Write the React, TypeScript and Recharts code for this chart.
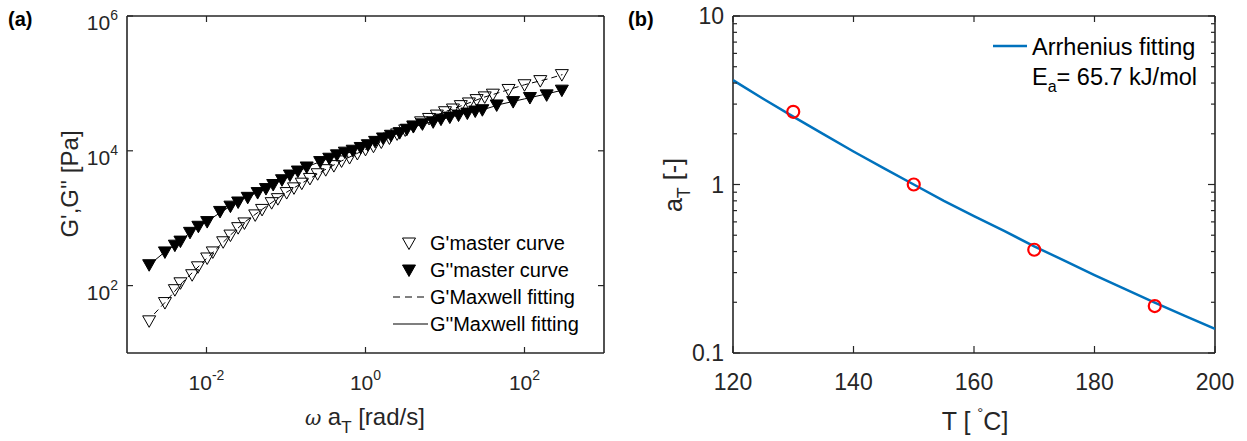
import { Scatter, ScatterChart, XAxis, YAxis } from 'recharts';

const AXIS = '#262626';
const FONT = '"Liberation Sans", Arial, sans-serif';

// (a) master curves: omega*aT [rad/s] and modulus [Pa]
const gPrimeOmega = [0.0019, 0.003, 0.004, 0.0047, 0.0066, 0.0078, 0.0102, 0.012, 0.0162, 0.02, 0.025, 0.03, 0.041, 0.05, 0.066, 0.079, 0.102, 0.126, 0.158, 0.2, 0.25, 0.316, 0.4, 0.5, 0.63, 0.79, 1.0, 1.26, 1.58, 2.0, 2.5, 3.16, 4.0, 5.0, 6.3, 7.9, 10, 12.6, 15.8, 20, 25, 31.6, 40, 63, 100, 158, 295];
const gPrime = [30, 56, 87, 110, 145, 190, 257, 316, 447, 562, 724, 851, 1120, 1350, 1700, 1950, 2400, 2820, 3310, 3890, 4570, 5250, 6030, 7080, 7940, 9120, 10500, 11700, 13500, 15500, 17800, 20400, 23400, 26900, 30200, 33900, 38000, 41700, 46800, 51300, 57500, 63100, 69200, 81300, 95500, 110000, 135000];

const gDoublePrimeOmega = [0.0019, 0.003, 0.004, 0.0047, 0.0062, 0.0079, 0.0102, 0.0148, 0.02, 0.025, 0.033, 0.044, 0.056, 0.069, 0.089, 0.112, 0.141, 0.182, 0.269, 0.35, 0.437, 0.55, 0.69, 0.87, 1.07, 1.32, 1.66, 2.09, 2.69, 3.31, 4.0, 5.2, 7.1, 8.9, 11.5, 14.8, 19.1, 24, 29.5, 44.7, 72, 117, 190, 295];
const gDoublePrime = [204, 316, 398, 457, 617, 759, 891, 1260, 1510, 1740, 2040, 2400, 2750, 3160, 3720, 4370, 5010, 5750, 6920, 7760, 8710, 9550, 10200, 11200, 12300, 13800, 15500, 17000, 18600, 20900, 22900, 25100, 26900, 29500, 31600, 33900, 36300, 38900, 40700, 47900, 53700, 61700, 67600, 79400];

const fitOmega = [0.0022, 0.003, 0.005, 0.007, 0.01, 0.02, 0.03, 0.05, 0.1, 0.2, 0.3, 0.5, 1, 2, 3, 5, 10, 20, 30, 50, 100, 200, 300];
const fitGPrime = [38, 56, 112, 166, 251, 562, 871, 1350, 2400, 3890, 5130, 7080, 10500, 15500, 20000, 26900, 38000, 51300, 61700, 74100, 95500, 117000, 135000];
const fitGDoublePrime = [234, 316, 490, 692, 891, 1510, 2000, 2570, 3980, 6030, 7240, 9120, 12000, 16600, 20000, 24500, 30200, 37200, 40700, 49000, 58900, 70800, 79400];

const xTicksA = [0.01, 1, 100];
const yTicksA = [100, 10000, 1000000];

// (b) shift factors
const tempC = [130, 150, 170, 190];
const shiftFactor = [2.7, 1.0, 0.41, 0.19];
const fitTemp = [120, 125, 130, 135, 140, 145, 150, 155, 160, 165, 170, 175, 180, 185, 190, 195, 200];
const fitShift = [4.16, 3.23, 2.53, 1.99, 1.57, 1.25, 1.0, 0.8, 0.65, 0.53, 0.43, 0.353, 0.29, 0.24, 0.199, 0.166, 0.139];

const xTicksB = [120, 140, 160, 180, 200];
const yMajorB = [0.1, 1, 10];
const yTicksB = [0.1, 0.2, 0.3, 0.4, 0.5, 0.6, 0.7, 0.8, 0.9, 1, 2, 3, 4, 5, 6, 7, 8, 9, 10];

const zip = (xs: number[], ys: number[]) => xs.map((x, i) => ({ x, y: ys[i] }));

function TriDown({ cx, cy, filled }: { cx: number; cy: number; filled: boolean }) {
  const pts = `${cx - 6.5},${cy - 5} ${cx + 6.5},${cy - 5} ${cx},${cy + 6.5}`;
  return <polygon points={pts} fill={filled ? '#000' : 'none'} stroke="#000" strokeWidth={1} />;
}

function LogXTick({ x, y, payload }: any) {
  const exp = Math.round(Math.log10(payload.value));
  return (
    <g>
      <line x1={x} x2={x} y1={y} y2={y - 6} stroke={AXIS} strokeWidth={1.2} />
      <text x={x} y={y + 37} textAnchor="middle" fontSize={21} fill={AXIS} fontFamily={FONT}>
        10<tspan dy={-10} fontSize={14}>{exp}</tspan>
      </text>
    </g>
  );
}

function LogYTick({ x, y, payload }: any) {
  const exp = Math.round(Math.log10(payload.value));
  return (
    <g>
      <line x1={x} x2={x + 6} y1={y} y2={y} stroke={AXIS} strokeWidth={1.2} />
      <text x={x - 9} y={y + 14} textAnchor="end" fontSize={21} fill={AXIS} fontFamily={FONT}>
        10<tspan dy={-10} fontSize={14}>{exp}</tspan>
      </text>
    </g>
  );
}

function TopTick({ x, y }: any) {
  return <line x1={x} x2={x} y1={y} y2={y + 6} stroke={AXIS} strokeWidth={1.2} />;
}

function RightTick({ x, y }: any) {
  return <line x1={x} x2={x - 6} y1={y} y2={y} stroke={AXIS} strokeWidth={1.2} />;
}

function LinXTick({ x, y, payload }: any) {
  return (
    <g>
      <line x1={x} x2={x} y1={y} y2={y - 7} stroke={AXIS} strokeWidth={1.2} />
      <text x={x} y={y + 37} textAnchor="middle" fontSize={23} fill={AXIS} fontFamily={FONT}>
        {payload.value}
      </text>
    </g>
  );
}

function MinorYTick({ x, y, payload }: any) {
  const major = yMajorB.includes(payload.value);
  return (
    <g>
      <line x1={x} x2={x + (major ? 7 : 4)} y1={y} y2={y} stroke={AXIS} strokeWidth={1.2} />
      {major && (
        <text x={x - 9} y={y + 8} textAnchor="end" fontSize={23} fill={AXIS} fontFamily={FONT}>
          {payload.value}
        </text>
      )}
    </g>
  );
}

function MinorYTickRight({ x, y, payload }: any) {
  const major = yMajorB.includes(payload.value);
  return <line x1={x} x2={x - (major ? 7 : 4)} y1={y} y2={y} stroke={AXIS} strokeWidth={1.2} />;
}

const axisLine = { stroke: AXIS, strokeWidth: 1.6 };
const noShape = () => <g />;

function PanelA() {
  return (
    <ScatterChart width={620} height={441} margin={{ top: 15, right: 15, bottom: 0, left: 0 }}>
      <XAxis type="number" dataKey="x" scale="log" domain={[0.001, 1000]} allowDataOverflow ticks={xTicksA}
        height={88} tickSize={0} tickMargin={0} tick={<LogXTick />} axisLine={axisLine} />
      <XAxis xAxisId="top" orientation="top" type="number" dataKey="x" scale="log" domain={[0.001, 1000]} allowDataOverflow
        ticks={xTicksA} height={1} tickSize={0} tickMargin={0} tick={<TopTick />} axisLine={axisLine} />
      <YAxis type="number" dataKey="y" scale="log" domain={[10, 1000000]} allowDataOverflow ticks={yTicksA}
        width={127} tickSize={0} tickMargin={0} tick={<LogYTick />} axisLine={axisLine} />
      <YAxis yAxisId="right" orientation="right" type="number" dataKey="y" scale="log" domain={[10, 1000000]} allowDataOverflow
        ticks={yTicksA} width={1} tickSize={0} tickMargin={0} tick={<RightTick />} axisLine={axisLine} />
      <Scatter data={zip(fitOmega, fitGPrime)} line={{ stroke: '#000', strokeWidth: 1, strokeDasharray: '6 4' }}
        shape={noShape} isAnimationActive={false} />
      <Scatter data={zip(fitOmega, fitGDoublePrime)} line={{ stroke: '#000', strokeWidth: 1 }}
        shape={noShape} isAnimationActive={false} />
      <Scatter data={zip(gPrimeOmega, gPrime)} isAnimationActive={false}
        shape={(p: any) => <TriDown cx={p.cx} cy={p.cy} filled={false} />} />
      <Scatter data={zip(gDoublePrimeOmega, gDoublePrime)} isAnimationActive={false}
        shape={(p: any) => <TriDown cx={p.cx} cy={p.cy} filled />} />
    </ScatterChart>
  );
}

function PanelB() {
  return (
    <ScatterChart width={627} height={441} margin={{ top: 15, right: 31, bottom: 0, left: 0 }}>
      <XAxis type="number" dataKey="x" domain={[120, 200]} allowDataOverflow ticks={xTicksB}
        height={88} tickSize={0} tickMargin={0} tick={<LinXTick />} axisLine={axisLine} />
      <XAxis xAxisId="top" orientation="top" type="number" dataKey="x" domain={[120, 200]} allowDataOverflow
        ticks={xTicksB} height={1} tickSize={0} tickMargin={0} tick={<TopTick />} axisLine={axisLine} />
      <YAxis type="number" dataKey="y" scale="log" domain={[0.1, 10]} allowDataOverflow ticks={yTicksB} interval={0}
        width={113} tickSize={0} tickMargin={0} tick={<MinorYTick />} axisLine={axisLine} />
      <YAxis yAxisId="right" orientation="right" type="number" dataKey="y" scale="log" domain={[0.1, 10]} allowDataOverflow
        ticks={yTicksB} interval={0} width={1} tickSize={0} tickMargin={0} tick={<MinorYTickRight />} axisLine={axisLine} />
      <Scatter data={zip(fitTemp, fitShift)} line={{ stroke: '#0072BD', strokeWidth: 2.5 }}
        shape={noShape} isAnimationActive={false} />
      <Scatter data={zip(tempC, shiftFactor)} isAnimationActive={false}
        shape={(p: any) => <circle cx={p.cx} cy={p.cy} r={6} fill="none" stroke="#FF0000" strokeWidth={2.2} />} />
    </ScatterChart>
  );
}

function Overlay() {
  const t = { fontFamily: FONT, fill: AXIS };
  return (
    <svg width={1247} height={441} style={{ position: 'absolute', left: 0, top: 0, pointerEvents: 'none' }}>
      <text x={8} y={26} fontSize={20} fontWeight="bold" fontFamily={FONT} fill="#000">(a)</text>
      <text x={628} y={26} fontSize={20} fontWeight="bold" fontFamily={FONT} fill="#000">(b)</text>

      <text x={78} y={184} transform="rotate(-90 78 184)" textAnchor="middle" fontSize={24} {...t}>G',G'' [Pa]</text>
      <text x={365} y={425} textAnchor="middle" fontSize={24} {...t}>
        <tspan fontStyle="italic" fontFamily="'DejaVu Serif', serif" fontSize={20}>ω </tspan>a
        <tspan dy={8} fontSize={17}>T</tspan>
        <tspan dy={-8}> [rad/s]</tspan>
      </text>

      <polygon points="402.5,238 415.5,238 409,249.5" fill="none" stroke="#000" strokeWidth={1} />
      <text x={430} y={250} fontSize={20} fontFamily={FONT} fill="#000">G'master curve</text>
      <polygon points="402.5,265 415.5,265 409,276.5" fill="#000" stroke="#000" strokeWidth={1} />
      <text x={430} y={277} fontSize={20} fontFamily={FONT} fill="#000">G''master curve</text>
      <line x1={393} x2={427} y1={297} y2={297} stroke="#000" strokeWidth={1} strokeDasharray="7 5" />
      <text x={430} y={304} fontSize={20} fontFamily={FONT} fill="#000">G'Maxwell fitting</text>
      <line x1={393} x2={428} y1={324} y2={324} stroke="#000" strokeWidth={1.2} />
      <text x={430} y={331} fontSize={20} fontFamily={FONT} fill="#000">G''Maxwell fitting</text>

      <text x={682} y={185} transform="rotate(-90 682 185)" textAnchor="middle" fontSize={25} {...t}>
        a<tspan dy={8} fontSize={18}>T</tspan><tspan dy={-8}> [-]</tspan>
      </text>
      <text x={975} y={430} textAnchor="middle" fontSize={25} {...t}>
        T [ <tspan dy={-12} fontSize={15}>°</tspan><tspan dy={12}>C]</tspan>
      </text>

      <line x1={993} x2={1027} y1={46} y2={46} stroke="#0072BD" strokeWidth={2.5} />
      <text x={1032} y={55} fontSize={23.5} fontFamily={FONT} fill="#000">Arrhenius fitting</text>
      <text x={1032} y={85} fontSize={23.5} fontFamily={FONT} fill="#000">
        E<tspan dy={7} fontSize={16}>a</tspan><tspan dy={-7}>= 65.7 kJ/mol</tspan>
      </text>
    </svg>
  );
}

export default function App() {
  return (
    <div style={{ position: 'absolute', left: 0, top: 0, width: 1247, height: 441, background: '#fff' }}>
      <div style={{ position: 'absolute', left: 0, top: 0 }}>
        <PanelA />
      </div>
      <div style={{ position: 'absolute', left: 620, top: 0 }}>
        <PanelB />
      </div>
      <Overlay />
    </div>
  );
}
